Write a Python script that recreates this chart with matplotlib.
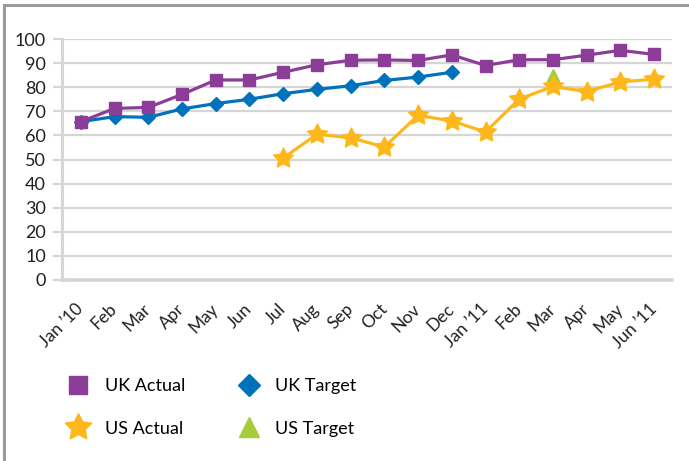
import matplotlib
matplotlib.use("Agg")
import matplotlib.pyplot as plt
from matplotlib.lines import Line2D
from matplotlib.path import Path
import numpy as np

plt.rcParams['font.family'] = ['Lato', 'DejaVu Sans']

months = ["Jan \u201910", "Feb", "Mar", "Apr", "May", "Jun", "Jul", "Aug", "Sep",
          "Oct", "Nov", "Dec", "Jan \u201911", "Feb", "Mar", "Apr", "May", "Jun \u201911"]

uk_actual = [65.7, 71.2, 71.6, 77, 83, 83, 86.2, 89.3, 91.2, 91.3, 91.1, 93.4,
             89, 91.4, 91.4, 93.3, 95.3, 93.6]
uk_target = [65.7, 67.8, 67.5, 71, 73.2, 75, 77.3, 79.1, 80.6, 82.8, 84.2, 86.2]
us_actual = [None] * 6 + [50.6, 60.5, 59, 55.2, 68.3, 66, 61.4, 75.1, 80.3, 78.2, 82.2, 83.3]
us_target = [None] * 14 + [85.0, None, None, None]

c_ukA = "#8C3D98"
c_ukT = "#0071BB"
c_usA = "#FDB71A"
c_usT = "#A5CD39"

# fat five-pointed star marker
ang = np.pi / 2 + np.arange(10) * np.pi / 5
rad = np.where(np.arange(10) % 2 == 0, 1.0, 0.5)
star_verts = np.column_stack([rad * np.cos(ang), rad * np.sin(ang)])
star = Path(np.vstack([star_verts, star_verts[:1]]), closed=True)

W, H = 689, 461
fig = plt.figure(figsize=(W / 100, H / 100), dpi=100)
ax = fig.add_axes([62 / W, 1 - 280 / H, (672 - 62) / W, (280 - 39) / H])

x = np.arange(len(months))

def arr(v):
    return np.array([np.nan if a is None else a for a in v], dtype=float)

ax.plot(x[:len(uk_target)], arr(uk_target), color=c_ukT, lw=2.3, marker='D', ms=7.5, mec=c_ukT, zorder=4)
ax.plot(x, arr(uk_actual), color=c_ukA, lw=2.3, marker='s', ms=9, mec=c_ukA, zorder=5)
ax.plot(x, arr(us_target), color=c_usT, lw=2.3, marker='^', ms=8, mec=c_usT, zorder=3)
ax.plot(x, arr(us_actual), color=c_usA, lw=2.3, marker=star, ms=15, mec=c_usA, zorder=6)

grid_c = "#d6d6d6"
ax.set_xlim(-0.56, 17.53)
ax.set_ylim(0, 100)
ax.set_yticks(np.arange(0, 101, 10))
ax.yaxis.grid(True, color=grid_c, lw=1.6)
ax.set_axisbelow(True)
for s in ['top', 'right']:
    ax.spines[s].set_visible(False)
ax.spines['left'].set_color(grid_c)
ax.spines['left'].set_linewidth(2.2)
ax.spines['bottom'].set_color(grid_c)
ax.spines['bottom'].set_linewidth(2.6)
ax.tick_params(axis='y', length=6.5, width=1.6, color=grid_c, pad=5, labelsize=13, labelcolor="#231f20")
ax.set_xticks(x)
ax.set_xticklabels(months, rotation=45, ha='right', va='center', rotation_mode='anchor')
ax.tick_params(axis='x', length=0, pad=19, labelsize=12.5, labelcolor="#231f20")

handles = [
    Line2D([], [], ls='none', marker='s', ms=13, color=c_ukA),
    Line2D([], [], ls='none', marker=star, ms=20, color=c_usA),
    Line2D([], [], ls='none', marker='D', ms=11.5, color=c_ukT),
    Line2D([], [], ls='none', marker='^', ms=14, color=c_usT),
]
labels = ["UK Actual", "US Actual", "UK Target", "US Target"]
fig.legend(handles, labels, ncol=2, loc='upper left', bbox_to_anchor=(63.6 / W, 1 - 378 / H),
           frameon=False, fontsize=13, handlelength=1.6, handletextpad=0.69,
           columnspacing=2.7, labelspacing=1.48, borderaxespad=0, borderpad=0)

border_c = "#9a9a9a"
fig.add_artist(Line2D([4 / W, 1], [1 - 5 / H, 1 - 5 / H], color=border_c, lw=2.2))
fig.add_artist(Line2D([4 / W, 4 / W], [0, 1 - 5 / H], color=border_c, lw=2.2))

fig.savefig("out.png", dpi=100)
